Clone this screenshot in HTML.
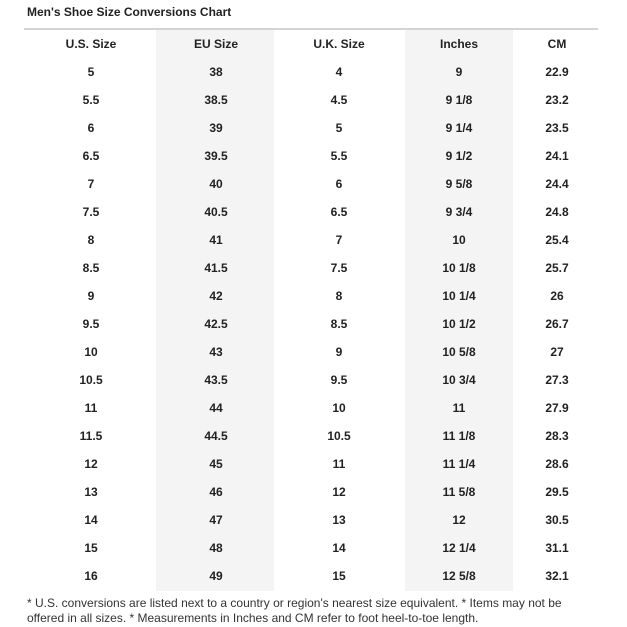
<!DOCTYPE html>
<html><head><style>
body{margin:0;width:627px;height:627px;background:#fff;font-family:"Liberation Sans",Arial,sans-serif;position:relative;overflow:hidden;color:#222}
.t{position:absolute;left:27px;top:5px;font-size:12px;font-weight:bold}
.line{position:absolute;left:24px;width:574px;top:28px;height:2px;background:#d4d4d4}
.sh{position:absolute;top:30px;height:561px;background:#f4f4f4}
.c{position:absolute;width:110px;margin-left:-55px;text-align:center;font-size:12px;font-weight:bold;line-height:14px}
.f{position:absolute;left:27px;top:596px;font-size:12px;line-height:15px;color:#333}
</style></head><body>
<div class="t">Men's Shoe Size Conversions Chart</div>
<div class="sh" style="left:156px;width:118px"></div>
<div class="sh" style="left:405px;width:108px"></div>
<div class="line"></div>
<div id="g"></div>
<div class="f">* U.S. conversions are listed next to a country or region's nearest size equivalent. * Items may not be<br>offered in all sizes. * Measurements in Inches and CM refer to foot heel-to-toe length.</div>
<script>
var rows=[["U.S. Size","EU Size","U.K. Size","Inches","CM"],
["5","38","4","9","22.9"],["5.5","38.5","4.5","9 1/8","23.2"],["6","39","5","9 1/4","23.5"],["6.5","39.5","5.5","9 1/2","24.1"],["7","40","6","9 5/8","24.4"],["7.5","40.5","6.5","9 3/4","24.8"],["8","41","7","10","25.4"],["8.5","41.5","7.5","10 1/8","25.7"],["9","42","8","10 1/4","26"],["9.5","42.5","8.5","10 1/2","26.7"],["10","43","9","10 5/8","27"],["10.5","43.5","9.5","10 3/4","27.3"],["11","44","10","11","27.9"],["11.5","44.5","10.5","11 1/8","28.3"],["12","45","11","11 1/4","28.6"],["13","46","12","11 5/8","29.5"],["14","47","13","12","30.5"],["15","48","14","12 1/4","31.1"],["16","49","15","12 5/8","32.1"]];
var xs=[91,216,339,459,557],h="";
rows.forEach(function(r,i){r.forEach(function(v,j){h+='<div class="c" style="left:'+xs[j]+'px;top:'+(37+i*28)+'px">'+v+'</div>';});});
document.getElementById("g").innerHTML=h;
</script>
</body></html>
